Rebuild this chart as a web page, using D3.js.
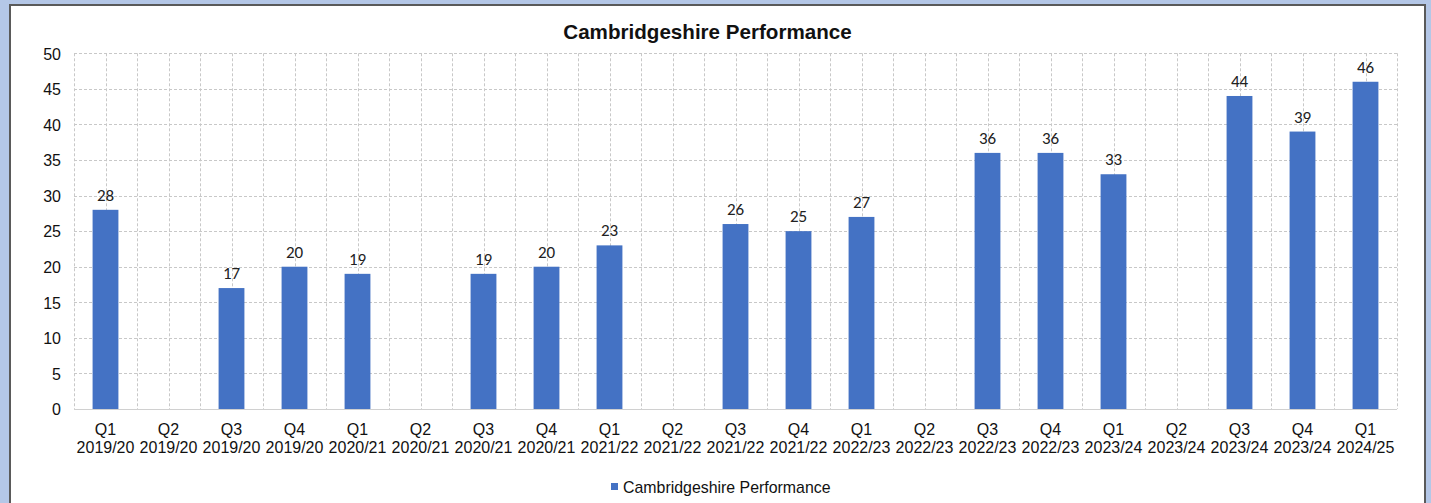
<!DOCTYPE html>
<html><head><meta charset="utf-8">
<script src="https://cdn.jsdelivr.net/npm/d3@7"></script>
<style>
html,body{margin:0;padding:0;background:#b4c7e7;}
svg{display:block;}
</style></head>
<body>
<svg id="chart" width="1431" height="503"></svg>
<script>
const quarters = ["Q1","Q2","Q3","Q4","Q1","Q2","Q3","Q4","Q1","Q2","Q3","Q4","Q1","Q2","Q3","Q4","Q1","Q2","Q3","Q4","Q1"];
const years = ["2019/20","2019/20","2019/20","2019/20","2020/21","2020/21","2020/21","2020/21","2021/22","2021/22","2021/22","2021/22","2022/23","2022/23","2022/23","2022/23","2023/24","2023/24","2023/24","2023/24","2024/25"];
const values = [28,null,17,20,19,null,19,20,23,null,26,25,27,null,36,36,33,null,44,39,46];
const yTicks = [0,5,10,15,20,25,30,35,40,45,50];
const seriesName = "Cambridgeshire Performance";
const title = "Cambridgeshire Performance";

const svg = d3.select("#chart");
const m = {left:74, right:1397, top:53.3, bottom:409};

// panel
svg.append("rect").attr("x",10).attr("y",5).attr("width",1415).attr("height",510)
  .attr("fill","#ffffff").attr("stroke","#5a5a5a").attr("stroke-width",2);

const idx = d3.range(values.length);
const x = d3.scaleBand().domain(idx).range([m.left,m.right]).paddingInner(0).paddingOuter(0);
const y = d3.scaleLinear().domain([0,50]).range([m.bottom,m.top]);
const bw = x.bandwidth()*0.41;

const grid = svg.append("g");
grid.selectAll("line.h").data(yTicks.filter(t=>t>0)).enter().append("line")
  .attr("x1",m.left).attr("x2",m.right)
  .attr("y1",d=>Math.round(y(d))+0.5).attr("y2",d=>Math.round(y(d))+0.5)
  .attr("stroke","#c8c8c8").attr("stroke-width",1).attr("stroke-dasharray","3,2");
const vx = [];
idx.forEach(i=>{ vx.push(x(i)); vx.push(x(i)+x.bandwidth()/2); });
vx.push(m.right);
grid.selectAll("line.v").data(vx).enter().append("line")
  .attr("x1",d=>Math.round(d)+0.5).attr("x2",d=>Math.round(d)+0.5)
  .attr("y1",m.top).attr("y2",m.bottom)
  .attr("stroke","#c8c8c8").attr("stroke-width",1).attr("stroke-dasharray","3,2");

// bars
const data = idx.map(i=>({i, v:values[i]})).filter(d=>d.v!=null);
svg.append("g").selectAll("rect").data(data).enter().append("rect")
  .attr("x",d=>x(d.i)+x.bandwidth()/2-bw/2)
  .attr("width",bw)
  .attr("y",d=>y(d.v))
  .attr("height",d=>y(0)-y(d.v))
  .attr("fill","#4472c4");

// baseline
svg.append("line").attr("x1",m.left).attr("x2",m.right)
  .attr("y1",Math.round(y(0))+0.5).attr("y2",Math.round(y(0))+0.5)
  .attr("stroke","#d0d0d0").attr("stroke-width",1);

// data labels
svg.append("g").selectAll("text").data(data).enter().append("text")
  .attr("x",d=>x(d.i)+x.bandwidth()/2)
  .attr("y",d=>y(d.v)-9)
  .attr("text-anchor","middle")
  .attr("font-family","Carlito, Calibri, Lato, sans-serif")
  .attr("font-size","17px")
  .attr("fill","#222")
  .text(d=>d.v);

// y axis
const yAxis = d3.axisLeft(y).tickValues(yTicks).tickSize(0).tickPadding(13);
const gy = svg.append("g").attr("transform",`translate(${m.left},0)`).call(yAxis);
gy.select(".domain").remove();
gy.selectAll("text").attr("font-family","'Liberation Sans', Arial, sans-serif")
  .attr("font-size","16px").attr("fill","#111").attr("dy","0.36em");

// x axis
const xAxis = d3.axisBottom(x).tickSize(0).tickFormat(()=>"");
const gx = svg.append("g").attr("transform",`translate(0,${m.bottom})`).call(xAxis);
gx.select(".domain").remove();
gx.selectAll(".tick").each(function(d){
  const t = d3.select(this).append("text")
    .attr("text-anchor","middle")
    .attr("font-family","'Liberation Sans', Arial, sans-serif")
    .attr("font-size","16px").attr("fill","#111");
  t.append("tspan").attr("x",0).attr("y",26).text(quarters[d]);
  t.append("tspan").attr("x",0).attr("y",44.3).text(years[d]);
});

// title
svg.append("text").attr("x",707.5).attr("y",39).attr("text-anchor","middle")
  .attr("font-family","'Liberation Sans', Arial, sans-serif")
  .attr("font-weight","bold").attr("font-size","20.6px").attr("fill","#111")
  .text(title);

// legend
const lg = svg.append("g");
lg.append("rect").attr("x",611).attr("y",483).attr("width",7).attr("height",7).attr("fill","#4472c4");
lg.append("text").attr("x",623).attr("y",492.5)
  .attr("font-family","'Liberation Sans', Arial, sans-serif")
  .attr("font-size","15.9px").attr("fill","#111").text(seriesName);
</script>
</body></html>
